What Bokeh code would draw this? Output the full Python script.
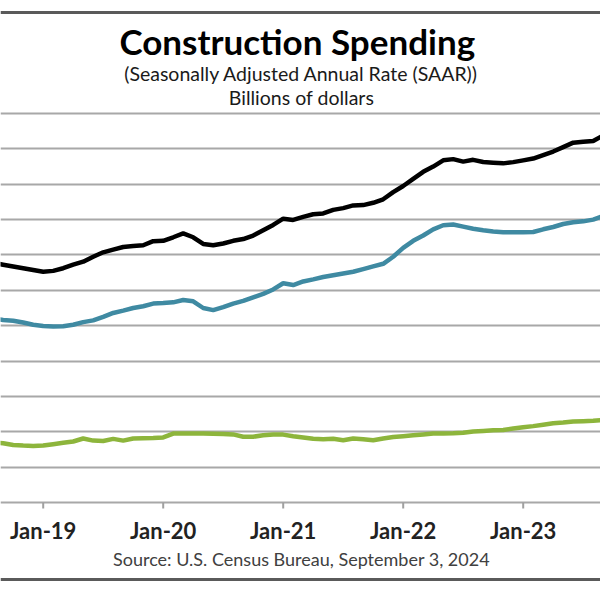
from bokeh.plotting import figure
from bokeh.models import Label, FixedTicker, Range1d, ColumnDataSource, Span
from bokeh.embed import file_html
from bokeh.resources import INLINE

# month index: 0 = Jan-2019
months = list(range(-5, 58))
tick_pos = [0, 12, 24, 36, 48]
tick_labels = ["Jan-19", "Jan-20", "Jan-21", "Jan-22", "Jan-23"]
grid_vals = list(range(0, 2201, 200))

total = [1355, 1345, 1335, 1325, 1315, 1305, 1310, 1325, 1345, 1362,
         1390, 1415, 1430, 1445, 1450, 1455, 1478, 1480, 1500, 1522,
         1500, 1462, 1455, 1465, 1480, 1490, 1510, 1540, 1570, 1605,
         1598, 1615, 1630, 1635, 1655, 1665, 1680, 1682, 1695, 1715,
         1755, 1790, 1830, 1870, 1900, 1935, 1942, 1928, 1938, 1926,
         1922, 1918, 1925, 1935, 1945, 1965, 1985, 2010, 2035, 2040,
         2045, 2075, 2090]
private = [1040, 1032, 1028, 1018, 1005, 998, 995, 997, 1005, 1020,
           1030, 1050, 1072, 1085, 1100, 1110, 1125, 1128, 1132, 1145,
           1138, 1100, 1088, 1105, 1125, 1140, 1160, 1180, 1205, 1240,
           1230, 1250, 1262, 1275, 1285, 1295, 1305, 1320, 1335, 1350,
           1390, 1440, 1480, 1510, 1545, 1568, 1572, 1560, 1548, 1540,
           1533, 1528, 1528, 1528, 1530, 1545, 1558, 1575, 1585, 1590,
           1600, 1620, 1630]
public = [340, 335, 325, 322, 320, 322, 330, 338, 345, 362,
          350, 348, 360, 350, 362, 364, 365, 368, 390, 390,
          390, 390, 389, 388, 385, 372, 372, 380, 385, 384,
          375, 368, 360, 358, 360, 352, 362, 358, 352, 362,
          370, 375, 380, 385, 390, 390, 392, 395, 402, 405,
          408, 410, 418, 425, 432, 440, 448, 452, 458, 460,
          462, 466, 468]

src = ColumnDataSource(dict(m=months, total=total, private=private, public=public))

W, H = 600, 590
PLOT_TOP, PLOT_BOTTOM = 113, 502          # page y of top gridline and of the axis
ppu = (PLOT_BOTTOM - PLOT_TOP) / 2200.0   # pixels per billion
y_start = -(H - PLOT_BOTTOM) / ppu
y_end = 2200 + PLOT_TOP / ppu
X0, PX_PER_MONTH = 42.7, 10.0             # page x of Jan-19, pixels per month
x_start = -X0 / PX_PER_MONTH
x_end = (W - X0) / PX_PER_MONTH

p = figure(width=W, height=H, output_backend="svg", toolbar_location=None,
           x_range=Range1d(x_start, x_end), y_range=Range1d(y_start, y_end),
           x_axis_location=None, y_axis_location=None,
           min_border=0, min_border_left=0, min_border_right=0,
           min_border_top=0, min_border_bottom=0)
p.outline_line_color = None
p.background_fill_color = "white"
p.border_fill_color = "white"

p.xgrid.visible = False
p.ygrid.ticker = FixedTicker(ticks=grid_vals)
p.ygrid.grid_line_color = "#a8a8a8"
p.ygrid.grid_line_width = 2

# frame lines of the chart box
for yy in (H - 12, H - 579):
    p.add_layout(Span(location=yy, location_units="screen", dimension="width",
                      line_color="#5a5a5a", line_width=3))

# x tick marks and labels
p.segment(x0=tick_pos, y0=[0] * len(tick_pos), x1=tick_pos,
          y1=[-6 / ppu] * len(tick_pos), line_color="#a0a0a0", line_width=2)
p.text(x=tick_pos, y=[0] * len(tick_pos), text=tick_labels, y_offset=28,
       text_align="center", text_baseline="alphabetic", text_font={"value": "Lato"},
       text_font_style="bold", text_font_size="22px", text_color="#222222")

p.line("m", "public", source=src, line_color="#8db53c", line_width=4.5)
p.line("m", "private", source=src, line_color="#3f8aa2", line_width=4.5)
p.line("m", "total", source=src, line_color="#000000", line_width=4.5)

def lab(text, baseline_y, size, style="normal", color="#1a1a1a"):
    p.add_layout(Label(x=301, y=H - baseline_y, x_units="screen", y_units="screen", text=text,
                       text_align="center", text_baseline="alphabetic",
                       text_font="Lato", text_font_size=size,
                       text_font_style=style, text_color=color))

lab("Construction  Spending", 40, "35px", "bold", "#000000")
lab("(Seasonally Adjusted Annual Rate (SAAR))", 73, "19.5px")
lab("Billions of dollars", 97, "19.5px")
lab("Source: U.S. Census Bureau, September 3, 2024", 558, "18px", color="#404040")

open("out.html", "w").write(file_html(p, INLINE))
